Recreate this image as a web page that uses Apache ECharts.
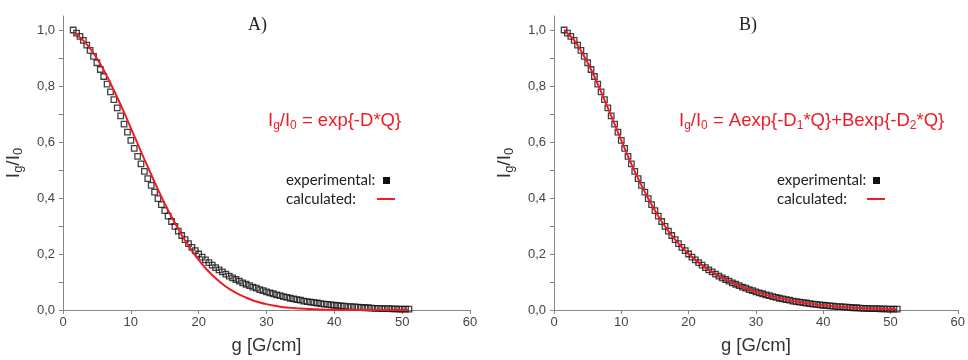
<!DOCTYPE html>
<html><head><meta charset="utf-8">
<script src="https://cdn.jsdelivr.net/npm/echarts@6/dist/echarts.min.js"></script>
<style>html,body{margin:0;padding:0;background:#fff}#c{width:968px;height:360px}</style>
</head><body><div id="c"></div>
<script>
// Experimental points (same data set in both panels)
const gExp = [1.5,2,2.5,3,3.5,4,4.5,5,5.5,6,
6.5,7,7.5,8,8.5,9,9.5,10,10.5,11,
11.5,12,12.5,13,13.5,14,14.5,15,15.5,16,
16.5,17,17.5,18,18.5,19,19.5,20,20.5,21,
21.5,22,22.5,23,23.5,24,24.5,25,25.5,26,
26.5,27,27.5,28,28.5,29,29.5,30,30.5,31,
31.5,32,32.5,33,33.5,34,34.5,35,35.5,36,
36.5,37,37.5,38,38.5,39,39.5,40,40.5,41,
41.5,42,42.5,43,43.5,44,44.5,45,45.5,46,
46.5,47,47.5,48,48.5,49,49.5,50,50.5,51];
const iExp = [1.000,0.989,0.977,0.963,0.946,0.927,0.906,0.883,0.859,0.834,
0.807,0.779,0.751,0.722,0.693,0.664,0.635,0.606,0.577,0.549,
0.522,0.495,0.469,0.445,0.421,0.398,0.376,0.355,0.335,0.316,
0.299,0.282,0.266,0.251,0.237,0.224,0.212,0.200,0.189,0.179,
0.169,0.160,0.151,0.143,0.136,0.128,0.121,0.115,0.109,0.103,
0.097,0.092,0.087,0.082,0.078,0.073,0.069,0.065,0.061,0.058,
0.054,0.051,0.048,0.045,0.042,0.040,0.037,0.035,0.032,0.030,
0.028,0.026,0.025,0.023,0.021,0.020,0.018,0.017,0.016,0.015,
0.014,0.012,0.012,0.011,0.010,0.009,0.008,0.008,0.007,0.006,
0.006,0.005,0.005,0.005,0.004,0.004,0.003,0.003,0.003,0.003];
// Calculated curves
const gCalc = [1.5,2,3,4,5,6,7,8,9,10,11,12,13,14,15,16,17,18,19,20,21,22,23,24,25,26,
27,28,29,30,31,32,33,34,35,36,37,38,39,40,41,42,43,44,45,46,47,48,49,50,51];
const iCalcA = [0.990,0.983,0.962,0.934,0.898,0.857,0.810,0.759,0.706,0.650,0.594,0.538,0.484,0.430,
0.380,0.333,0.289,0.248,0.212,0.179,0.150,0.125,0.103,0.084,0.068,0.055,0.044,0.034,0.027,0.021,
0.016,0.012,0.009,0.007,0.005,0.004,0.003,0.002,0.001,0.001,0,0,0,0,0,0,0,0,0,0,0];
const iCalcB = [1.000,0.989,0.963,0.927,0.883,0.834,0.779,0.722,0.664,0.606,0.549,0.495,0.445,0.398,
0.355,0.316,0.282,0.251,0.224,0.200,0.179,0.160,0.143,0.128,0.115,0.103,0.092,0.082,0.073,0.065,
0.058,0.051,0.045,0.040,0.035,0.030,0.026,0.023,0.020,0.017,0.015,0.012,0.011,0.009,0.008,0.006,
0.005,0.005,0.004,0.003,0.003];
// Axis ticks
const xTicks = [0,10,20,30,40,50,60];
const yTicks = [0,0.1,0.2,0.3,0.4,0.5,0.6,0.7,0.8,0.9,1.0];
const yLabels = [0,0.2,0.4,0.6,0.8,1.0];
const panelTitles = ['A)','B)'];
const equations = ['I{s|g}/I{s|0} = exp{-D*Q}','I{s|g}/I{s|0} = Aexp{-D{s|1}*Q}+Bexp{-D{s|2}*Q}'];
const legendTexts = ['experimental:','calculated:'];

const RED = '#ee1c24';
const AX = '#858585';
const FONT = 'Liberation Sans';
const zip = (a,b) => a.map((v,i)=>[v,b[i]]);

function xAxis(gi){
  return {type:'value', gridIndex:gi, min:xTicks[0], max:xTicks[xTicks.length-1], interval:10,
    name:'g [G/cm]', nameLocation:'middle', nameGap:26,
    nameTextStyle:{fontSize:18.5, color:'#333', fontFamily:FONT},
    axisLine:{show:true, onZero:false, lineStyle:{color:AX, width:1}},
    axisTick:{show:true, length:4, lineStyle:{color:AX}},
    axisLabel:{fontSize:13, color:'#444', fontFamily:FONT, margin:6},
    splitLine:{show:false}};
}
function yAxis(gi){
  return {type:'value', gridIndex:gi, min:0, max:1.05,
    name:'I{s|g}/I{s|0}', nameLocation:'middle', nameGap:38,
    nameTextStyle:{fontSize:19, color:'#333', fontFamily:FONT, lineHeight:22,
      rich:{s:{fontSize:13, lineHeight:10, verticalAlign:'bottom', color:'#333', fontFamily:FONT}}},
    axisLine:{show:true, lineStyle:{color:AX, width:1}},
    axisTick:{show:true, length:4, customValues:yTicks, lineStyle:{color:AX}},
    axisLabel:{fontSize:13, color:'#444', fontFamily:FONT, margin:8, customValues:yLabels,
      formatter:v=>v.toFixed(1).replace('.',',')},
    splitLine:{show:false}};
}
function scatter(gi){
  return {type:'scatter', xAxisIndex:gi, yAxisIndex:gi, data:zip(gExp,iExp), symbol:'rect', symbolSize:5.5,
    itemStyle:{color:'rgba(255,255,255,0)', borderColor:'#111', borderWidth:1.3}, z:2, silent:true};
}
function calc(gi, vals){
  return {type:'line', xAxisIndex:gi, yAxisIndex:gi, data:zip(gCalc,vals), showSymbol:false, smooth:0.3,
    lineStyle:{color:RED, width:2}, z:3, silent:true};
}
function eqText(x, txt){
  return {type:'text', x:x, y:121, z:10, style:{text:txt, fill:RED, fontSize:18.5, fontFamily:FONT, lineHeight:22,
    align:'left', verticalAlign:'middle',
    rich:{s:{fontSize:12, lineHeight:10, verticalAlign:'bottom', fill:RED, fontFamily:FONT}}}};
}
function legendBlock(x, sqX, lnX){
  return [
    {type:'text', x:x, y:180, z:10, style:{text:legendTexts[0], fill:'#222', fontSize:15, fontFamily:'Lato', verticalAlign:'middle'}},
    {type:'text', x:x, y:199, z:10, style:{text:legendTexts[1], fill:'#222', fontSize:15, fontFamily:'Lato', verticalAlign:'middle'}},
    {type:'rect', z:10, shape:{x:sqX, y:177, width:7, height:7}, style:{fill:'#111'}},
    {type:'line', z:10, shape:{x1:lnX, y1:199, x2:lnX+18, y2:199}, style:{stroke:RED, lineWidth:2}}
  ];
}

const chart = echarts.init(document.getElementById('c'), null, {renderer:'canvas'});
chart.setOption({
  animation:false,
  backgroundColor:'#fff',
  grid:[{left:63, top:16, width:407, height:297}, {left:554, top:16, width:406, height:297}],
  xAxis:[xAxis(0), xAxis(1)],
  yAxis:[yAxis(0), yAxis(1)],
  series:[scatter(0), calc(0, iCalcA), scatter(1), calc(1, iCalcB)],
  graphic:[
    {type:'text', x:257.5, y:25, z:10, style:{text:panelTitles[0], fill:'#222', fontSize:18, fontFamily:'Liberation Serif', align:'center', verticalAlign:'middle'}},
    {type:'text', x:748, y:25, z:10, style:{text:panelTitles[1], fill:'#222', fontSize:18, fontFamily:'Liberation Serif', align:'center', verticalAlign:'middle'}},
    eqText(268, equations[0]),
    eqText(679, equations[1]),
    ...legendBlock(286, 383, 377),
    ...legendBlock(777, 873, 867)
  ]
});
</script></body></html>
